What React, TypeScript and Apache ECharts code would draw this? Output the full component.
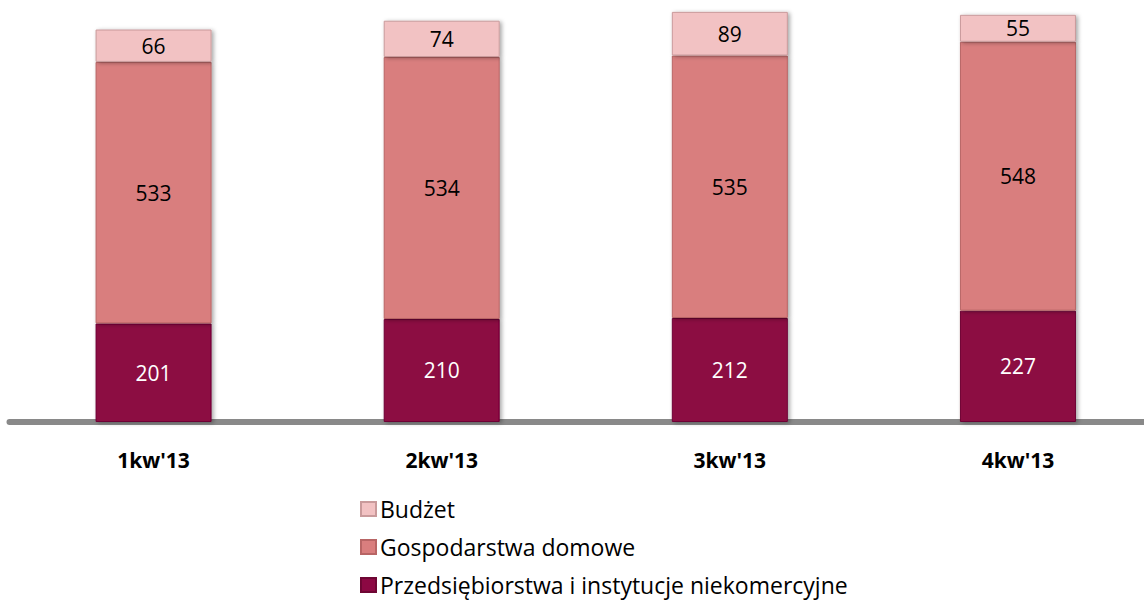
import React, { useEffect, useRef } from "react";
import * as echarts from "echarts";

const categories = ["1kw'13", "2kw'13", "3kw'13", "4kw'13"];
const przedsiebiorstwa = [201, 210, 212, 227];
const gospodarstwa = [533, 534, 535, 548];
const budzet = [66, 74, 89, 55];
const legendNames = ["Budżet", "Gospodarstwa domowe", "Przedsiębiorstwa i instytucje niekomercyjne"];

const FONT = "'Open Sans', 'Noto Sans', sans-serif";

export default function App() {
  const ref = useRef<HTMLDivElement>(null);
  useEffect(() => {
    if (!ref.current) return;
    const chart = echarts.init(ref.current, undefined, { renderer: "svg" });
    const shadow = {
      shadowColor: "rgba(0,0,0,0.35)",
      shadowBlur: 4,
      shadowOffsetX: 2,
      shadowOffsetY: 1,
    };
    const mk = (name: string, data: number[], color: string, border: string, labelColor: string) => ({
      name,
      type: "bar",
      stack: "total",
      data,
      barWidth: 116,
      itemStyle: { color, borderColor: border, borderWidth: 1, ...shadow },
      label: {
        show: true,
        position: "inside",
        color: labelColor,
        fontSize: 21,
        fontFamily: FONT,
      },
    });
    chart.setOption({
      animation: false,
      textStyle: { fontFamily: FONT },
      grid: { left: 9.5, right: 0, top: 5, bottom: 179, containLabel: false },
      legend: {
        orient: "vertical",
        left: 360,
        top: 497,
        height: 104,
        padding: 0,
        icon: "rect",
        itemWidth: 15,
        itemHeight: 14,
        itemGap: 14,
        data: legendNames,
        textStyle: { fontSize: 23, color: "#000", fontFamily: FONT, lineHeight: 24, padding: [0, 0, 0, -1] },
      },
      xAxis: {
        type: "category",
        data: categories,
        offset: 3,
        axisLine: { lineStyle: { color: "#898989", width: 6 } },
        axisTick: { show: false },
        axisLabel: { fontSize: 21, fontWeight: "bold", color: "#000", margin: 24, fontFamily: FONT },
      },
      yAxis: {
        type: "value",
        min: 0,
        max: 850,
        show: false,
        splitLine: { show: false },
      },
      series: [
        mk(legendNames[2], przedsiebiorstwa, "#8C0843", "#6e0634", "#ffffff"),
        mk(legendNames[1], gospodarstwa, "#D97E7E", "#b86565", "#000000"),
        mk(legendNames[0], budzet, "#F2C2C3", "#c99a9b", "#000000"),
      ],
    });
    return () => chart.dispose();
  }, []);
  return (
    <div style={{ position: "absolute", left: 0, top: 0, width: 1144, height: 601, overflow: "hidden", background: "#fff" }}>
      <div ref={ref} style={{ position: "absolute", left: 0, top: 0, width: 1162, height: 601 }} />
    </div>
  );
}
